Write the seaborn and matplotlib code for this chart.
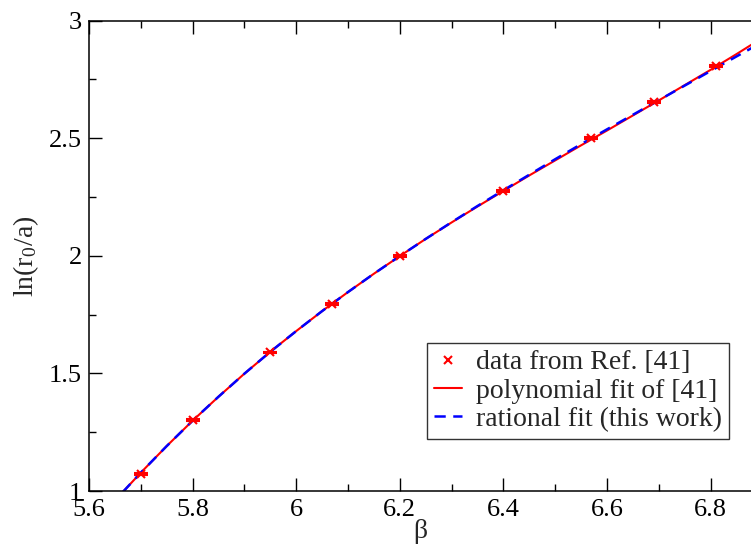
import numpy as np
import pandas as pd
import seaborn as sns
import matplotlib.pyplot as plt
from matplotlib.lines import Line2D
from matplotlib.ticker import MultipleLocator, FormatStrFormatter

# data points
beta_data = [5.70, 5.80, 5.95, 6.07, 6.20, 6.40, 6.57, 6.69, 6.81]
lnr0_data = [1.072, 1.301, 1.589, 1.797, 1.999, 2.276, 2.500, 2.653, 2.806]
lnr0_err = [0.004, 0.004, 0.004, 0.004, 0.004, 0.004, 0.004, 0.004, 0.004]

# curves
beta_curve = [5.665, 5.70, 5.75, 5.80, 5.85, 5.90, 5.95, 6.00, 6.05, 6.10,
              6.15, 6.20, 6.25, 6.30, 6.35, 6.40, 6.45, 6.50, 6.55, 6.60,
              6.65, 6.70, 6.75, 6.80, 6.85, 6.90]
poly_fit = [0.995, 1.078, 1.191, 1.299, 1.401, 1.499, 1.592, 1.680, 1.765, 1.846,
            1.924, 1.999, 2.072, 2.142, 2.210, 2.276, 2.342, 2.406, 2.470, 2.533,
            2.597, 2.661, 2.726, 2.791, 2.858, 2.927]
rational_fit = [0.995, 1.078, 1.191, 1.299, 1.401, 1.499, 1.592, 1.680, 1.765, 1.846,
                1.924, 1.999, 2.072, 2.143, 2.212, 2.279, 2.345, 2.411, 2.475, 2.538,
                2.600, 2.662, 2.724, 2.786, 2.848, 2.909]

curves = pd.DataFrame({"beta": beta_curve, "poly": poly_fit, "rational": rational_fit})

sns.set_style("ticks")
plt.rcParams["font.family"] = ["Liberation Serif", "DejaVu Serif"]
plt.rcParams["mathtext.fontset"] = "stix"

fig = plt.figure(figsize=(7.51, 5.47), dpi=100)
ax = fig.add_axes([89 / 751, 56 / 547, 1 - 89 / 751, 470.3 / 547])

ax.errorbar(beta_data, lnr0_data, yerr=lnr0_err, fmt="x", color="red",
            ms=6, mew=1.5, elinewidth=1.0, capsize=5, capthick=1.0, zorder=3)
sns.lineplot(data=curves, x="beta", y="poly", ax=ax, color="red", lw=1.5, zorder=2)
sns.lineplot(data=curves, x="beta", y="rational", ax=ax, color="blue", lw=1.8,
             dashes=(4.5, 3), zorder=2.5)

ax.set_xlim(5.6, 5.6 + 662 / 518)
ax.set_ylim(1, 3)
ax.xaxis.set_major_locator(MultipleLocator(0.2))
ax.xaxis.set_minor_locator(MultipleLocator(0.1))
ax.yaxis.set_major_locator(MultipleLocator(0.5))
ax.yaxis.set_minor_locator(MultipleLocator(0.25))
ax.xaxis.set_major_formatter(FormatStrFormatter("%g"))
ax.yaxis.set_major_formatter(FormatStrFormatter("%g"))
ax.tick_params(which="both", direction="in", top=True, right=False,
               labelsize=19, width=1.0, colors="black")
ax.tick_params(axis="x", pad=6)
ax.tick_params(axis="y", pad=5)
ax.tick_params(which="major", length=9.5)
ax.tick_params(which="minor", length=5)
for s in ["left", "bottom", "top"]:
    ax.spines[s].set_linewidth(1.1)
    ax.spines[s].set_color("black")
ax.spines["right"].set_visible(False)

ax.set_xlabel("β", fontsize=20, labelpad=-2)
ax.set_ylabel("ln(r$_\\mathregular{0}$/a)", fontsize=20, labelpad=6)

handles = [
    Line2D([], [], ls="none", marker="x", color="red", ms=6, mew=1.5),
    Line2D([], [], color="red", lw=1.5),
    Line2D([], [], color="blue", lw=1.8, dashes=(4.5, 3)),
]
labels = ["data from Ref. [41]", "polynomial fit of [41]", "rational fit (this work)"]
leg = ax.legend(handles, labels,
                loc="upper right", bbox_to_anchor=(729 / 751, 1 - 343 / 547),
                bbox_transform=fig.transFigure, borderaxespad=0, fontsize=20,
                frameon=True, fancybox=False, handlelength=1.0, handletextpad=0.5,
                labelspacing=0.1, borderpad=0.25)
leg.get_frame().set_edgecolor("black")
leg.get_frame().set_linewidth(1.0)

fig.savefig("out.png", dpi=100)
